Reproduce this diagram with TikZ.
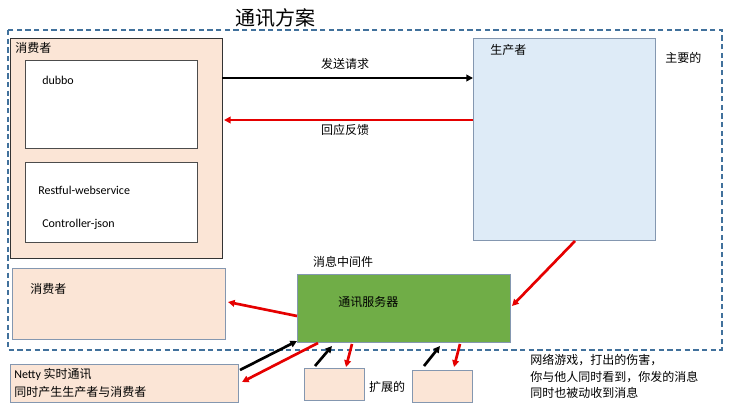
\documentclass[tikz,border=0pt]{standalone}
\usepackage{fontspec}
\setmainfont{Carlito}
\newfontfamily\cjk{Noto Sans CJK SC}
\usetikzlibrary{arrows.meta}
\definecolor{peach}{HTML}{FBE5D6}
\definecolor{lblue}{HTML}{DEEBF7}
\definecolor{grn}{HTML}{70AD47}
\definecolor{bord}{HTML}{8497B0}
\definecolor{dashcol}{HTML}{41719C}
\tikzset{
 box/.style={draw=bord,fill=peach,line width=0.6pt},
 lbl/.style={anchor=west,inner sep=0pt,font=\cjk\fontsize{9}{11}\selectfont},
 txt/.style={anchor=west,inner sep=0pt,font=\fontsize{9}{11}\selectfont},
 blk/.style={-{Triangle[length=5pt,width=5pt]},line width=2pt,black},
 red/.style={-{Triangle[length=5pt,width=5pt]},line width=2pt,red!90!black},
}
\begin{document}
\begin{tikzpicture}[x=0.75pt,y=-0.75pt]
\useasboundingbox (0,0) rectangle (729,418);
\node[anchor=center,font=\cjk\fontsize{15}{18}\selectfont] (title) at (275,18) {通讯方案};
\draw[dashcol,dash pattern=on 4pt off 2.5pt,line width=0.9pt] (8,30) rectangle (722,350);
% consumer big
\draw[box,draw=black!80] (10,38) rectangle (222,258);
\node[lbl] (c1l) at (15,48) {消费者};
\draw[draw=black!70,fill=white] (25,60) rectangle (197,148);
\node[txt] (dubbo) at (42,80) {dubbo};
\draw[draw=black!70,fill=white] (25,162) rectangle (197,242);
\node[txt] (rest) at (38,190) {Restful-webservice};
\node[txt] (ctrl) at (42,224) {Controller-json};
% producer
\node[draw=bord,fill=lblue,minimum width=136.5pt,minimum height=151.5pt,inner sep=0pt] (prod) at (564,139) {};
\node[lbl] (pl) at (490,50) {生产者};
\node[lbl] (main) at (665,58) {主要的};
\draw[blk] (222,78) -- (473,78);
\node[lbl,anchor=center] (send) at (345,64) {发送请求};
\draw[red] (473,120) -- (224,120);
\node[lbl,anchor=center] (resp) at (345,130) {回应反馈};
% middleware
\node[lbl,anchor=center] (mid) at (343,262) {消息中间件};
\node[draw=bord,fill=grn,minimum width=159.75pt,minimum height=51pt,inner sep=0pt] (srv) at (403.5,308) {};
\node[lbl] (srvl) at (338,302) {通讯服务器};
% consumer 2
\node[box,minimum width=159.75pt,minimum height=53.25pt,inner sep=0pt] (c2) at (118.5,303.5) {};
\node[lbl] (c2l) at (30,289) {消费者};
\draw[red] (575,241) -- (512,306);
\draw[red] (297,316) -- (228,302);
% netty
\node[box,minimum width=171pt,minimum height=28.5pt,inner sep=0pt] (netty) at (124,383) {};
\node[anchor=west,inner sep=0pt,font=\fontsize{9}{11}\selectfont] (n1) at (14,374) {Netty {\cjk 实时通讯}};
\node[lbl] (n2) at (14,392) {同时产生生产者与消费者};
\draw[blk] (240,370) -- (297,341);
\draw[red] (318,343) -- (242,382);
% small boxes
\node[box,minimum width=45pt,minimum height=24pt,inner sep=0pt] (s1) at (334,384) {};
\node[box,minimum width=45pt,minimum height=24pt,inner sep=0pt] (s2) at (442,386) {};
\node[lbl,anchor=center] (ext) at (387,387) {扩展的};
\draw[blk] (315,366) -- (332,346);
\draw[red] (352,344) -- (346,367);
\draw[blk] (424,366) -- (440,346);
\draw[red] (460,344) -- (454,367);
% right text
\node[lbl,anchor=north west,align=left,font=\cjk\fontsize{9}{12.5}\selectfont] (note) at (530,354) {网络游戏，打出的伤害，\\你与他人同时看到，你发的消息\\同时也被动收到消息};
\end{tikzpicture}
\end{document}
